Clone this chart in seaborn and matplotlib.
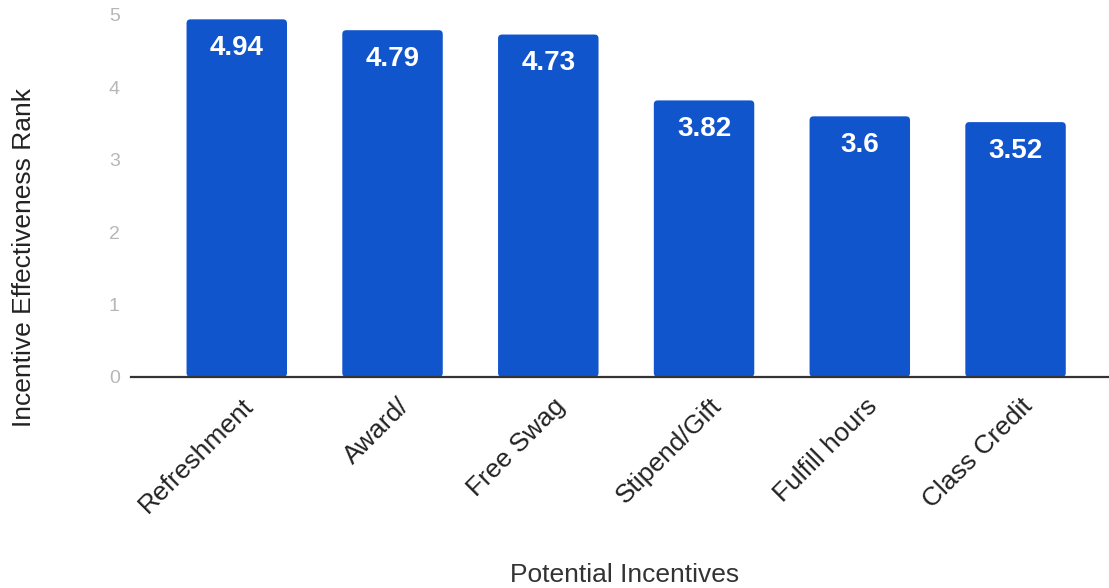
import matplotlib
matplotlib.use("Agg")
import matplotlib.pyplot as plt
import matplotlib.transforms as mtransforms
import seaborn as sns
import pandas as pd
from matplotlib.patches import FancyBboxPatch

incentives = ["Refreshment", "Award/", "Free Swag", "Stipend/Gift", "Fulfill hours", "Class Credit"]
ranks = [4.94, 4.79, 4.73, 3.82, 3.6, 3.52]
value_labels = ["4.94", "4.79", "4.73", "3.82", "3.6", "3.52"]
y_ticks = [0, 1, 2, 3, 4, 5]

sns.set_theme(style="white")
plt.rcParams["font.family"] = ["Liberation Sans", "DejaVu Sans"]

df = pd.DataFrame({"incentive": incentives, "rank": ranks})

fig = plt.figure(figsize=(11.09, 5.88), dpi=100)
ax = fig.add_axes([0.118, 0.359, 0.882, 0.6155])

sns.barplot(data=df, x="incentive", y="rank", color="#1155cc", saturation=1,
            width=0.645, ax=ax)

ax.set_xlim(-0.68, 5.6)
ax.set_ylim(0, 5)

# soften the bar corners slightly, keeping each bar's own geometry
bbox = ax.get_window_extent()
px_per_x = bbox.width / (5.6 + 0.68)
px_per_y = bbox.height / 5.0
bars = list(ax.patches)
for patch in bars:
    patch.set_visible(False)
    rounded = FancyBboxPatch(
        (patch.get_x(), patch.get_y()), patch.get_width(), patch.get_height(),
        boxstyle=f"round,pad=0,rounding_size={4 / px_per_x}",
        mutation_aspect=px_per_x / px_per_y,
        facecolor="#1155cc", edgecolor="none", zorder=2)
    ax.add_patch(rounded)

for patch, txt in zip(bars, value_labels):
    x = patch.get_x() + patch.get_width() / 2
    h = patch.get_height()
    ax.annotate(txt, (x, h), xytext=(0, -20.5), textcoords="offset points",
                ha="center", va="center", color="white", fontsize=20,
                fontweight="bold", zorder=3)

ax.set_yticks(y_ticks)
ax.tick_params(axis="y", colors="#b7b7b7", labelsize=14, length=0, pad=8)
ax.tick_params(axis="x", labelsize=19, length=0, pad=12, labelcolor="#222222")
shift = mtransforms.ScaledTranslation(5 / 100, 0, fig.dpi_scale_trans)
for lbl in ax.get_xticklabels():
    lbl.set_rotation(45)
    lbl.set_ha("right")
    lbl.set_rotation_mode("anchor")
    lbl.set_transform(lbl.get_transform() + shift)

for side in ["top", "right", "left"]:
    ax.spines[side].set_visible(False)
ax.spines["bottom"].set_color("#333333")
ax.spines["bottom"].set_linewidth(1.6)
ax.spines["bottom"].set_zorder(4)

ax.set_xlabel("Potential Incentives", fontsize=19, color="#333333")
ax.set_ylabel("Incentive Effectiveness Rank", fontsize=19, color="#222222")
ax.xaxis.set_label_coords(0.505, -0.547)
ax.xaxis.label.set_va("center")
ax.yaxis.set_label_coords(-0.109, 0.329)
ax.yaxis.label.set_va("center")

fig.savefig("out.png", dpi=100)
